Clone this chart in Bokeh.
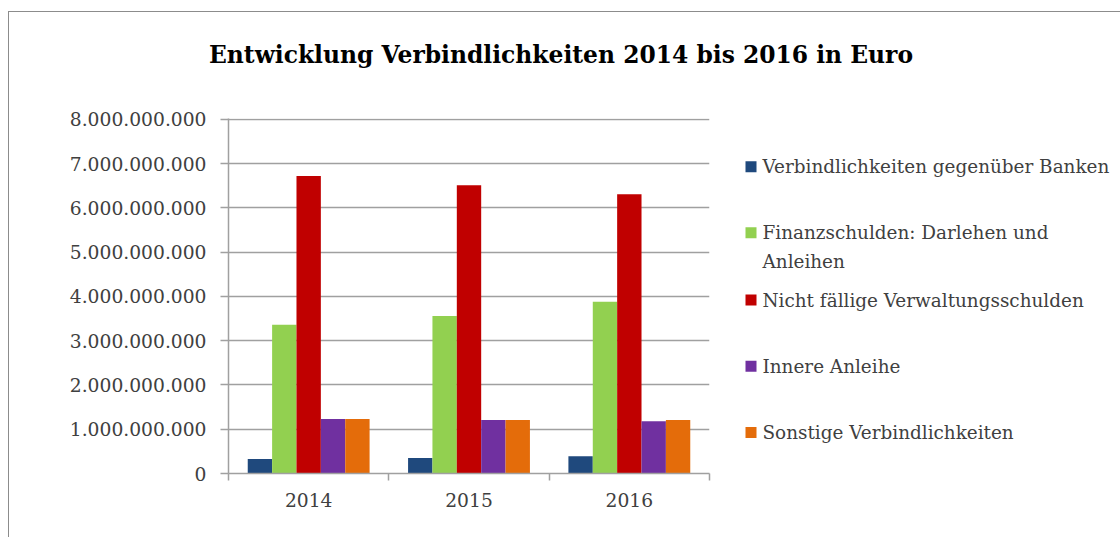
import numpy as np
from bokeh.plotting import figure
from bokeh.layouts import row, column
from bokeh.models import FixedTicker, Range1d
from bokeh.core.properties import value
from bokeh.embed import file_html
from bokeh.resources import INLINE

# ---- data ----
years = ["2014", "2015", "2016"]
series_names = [
    "Verbindlichkeiten gegenüber Banken",
    "Finanzschulden: Darlehen und Anleihen",
    "Nicht fällige Verwaltungsschulden",
    "Innere Anleihe",
    "Sonstige Verbindlichkeiten",
]
banken = [330e6, 350e6, 390e6]
finanzschulden = [3.36e9, 3.56e9, 3.88e9]
verwaltungsschulden = [6.72e9, 6.51e9, 6.31e9]
innere_anleihe = [1.23e9, 1.21e9, 1.18e9]
sonstige = [1.23e9, 1.21e9, 1.21e9]
y_ticks = [0, 1e9, 2e9, 3e9, 4e9, 5e9, 6e9, 7e9, 8e9]
y_tick_labels = ["0", "1.000.000.000", "2.000.000.000", "3.000.000.000", "4.000.000.000",
                 "5.000.000.000", "6.000.000.000", "7.000.000.000", "8.000.000.000"]
title_text = "Entwicklung Verbindlichkeiten 2014 bis 2016 in Euro"

colors = ["#1F497D", "#92D050", "#C00000", "#7030A0", "#E46C0A"]
series = [banken, finanzschulden, verwaltungsschulden, innere_anleihe, sonstige]

FONT = "DejaVu Serif"
GRID = "#a0a0a0"
TEXT = "#404040"

TOTAL_W = 1111
TITLE_H = 90
MAIN_W, MAIN_H = 702, 435
LEG_W = TOTAL_W - MAIN_W
FRAME_H = 354  # legend panel frame is aligned with the chart frame

# ---- title strip ----
t = figure(width=TOTAL_W, height=TITLE_H, output_backend="svg", toolbar_location=None,
           x_range=Range1d(0, TOTAL_W), y_range=Range1d(TITLE_H, 0),
           x_axis_type=None, y_axis_type=None, min_border=0)
t.outline_line_color = None
t.grid.visible = False
t.text(x=[551.5], y=[42], text=[title_text], text_font=value(FONT), text_font_style="bold",
       text_font_size="23.4px", text_color="#000000", text_align="center", text_baseline="middle")

# ---- main chart ----
p = figure(width=MAIN_W, height=MAIN_H, output_backend="svg", toolbar_location=None,
           x_range=Range1d(0, 3), y_range=Range1d(0, 8.02e9),
           min_border_left=219, min_border_right=2, min_border_top=16, min_border_bottom=64)
p.outline_line_color = None

bw = 0.152
centers = np.arange(len(years)) + 0.5
for i, (vals, col) in enumerate(zip(series, colors)):
    p.vbar(x=centers + (i - 2) * bw, top=vals, width=bw, bottom=0,
           fill_color=col, line_color=None)

p.xaxis.ticker = FixedTicker(ticks=list(centers), minor_ticks=[0, 1, 2, 3])
p.xaxis.major_label_overrides = {float(c): y for c, y in zip(centers, years)}
p.xaxis.major_tick_line_color = None
p.xaxis.major_tick_out = 0
p.xaxis.major_tick_in = 0
p.xaxis.minor_tick_line_color = GRID
p.xaxis.minor_tick_out = 7
p.xaxis.minor_tick_in = 0
p.xaxis.minor_tick_line_width = 1.5
p.xaxis.axis_line_color = GRID
p.xaxis.axis_line_width = 1.5
p.xaxis.major_label_standoff = 12
p.xaxis.major_label_text_font = FONT
p.xaxis.major_label_text_font_size = "18.7px"
p.xaxis.major_label_text_color = TEXT
p.xgrid.grid_line_color = None

p.yaxis.ticker = FixedTicker(ticks=y_ticks, minor_ticks=[])
p.yaxis.major_label_overrides = {tk: lb for tk, lb in zip(y_ticks, y_tick_labels)}
p.yaxis.major_tick_line_color = GRID
p.yaxis.major_tick_line_width = 1.5
p.yaxis.major_tick_out = 8
p.yaxis.major_tick_in = 0
p.yaxis.axis_line_color = GRID
p.yaxis.axis_line_width = 1.5
p.yaxis.major_label_standoff = 14
p.yaxis.major_label_text_font = FONT
p.yaxis.major_label_text_font_size = "18.7px"
p.yaxis.major_label_text_color = TEXT
p.ygrid.grid_line_color = GRID
p.ygrid.grid_line_width = 1.5

# ---- legend panel ----
leg = figure(width=LEG_W, height=MAIN_H, output_backend="svg", toolbar_location=None,
             x_range=Range1d(0, LEG_W), y_range=Range1d(FRAME_H, 0),
             x_axis_type=None, y_axis_type=None, min_border=0)
leg.outline_line_color = None
leg.grid.visible = False
row_y = [48, 114, 181, 247, 313]
leg.rect(x=[39.5] * len(colors), y=row_y, width=11, height=11,
         width_units="screen", height_units="screen", fill_color=colors, line_color=None)
leg_lines = [series_names[0], "Finanzschulden: Darlehen und", "Anleihen",
             series_names[2], series_names[3], series_names[4]]
leg_line_y = [48, 114, 143, 181, 247, 313]
leg.text(x=[51] * len(leg_lines), y=leg_line_y, text=leg_lines, text_font=value(FONT),
         text_font_size="18.4px", text_color=TEXT, text_align="left", text_baseline="middle")

layout = column(t, row(p, leg),
                styles={"margin-left": "8px", "margin-top": "11px",
                        "border-left": "1px solid #8c8c8c", "border-top": "1px solid #8c8c8c"})

open("out.html", "w").write(file_html(layout, INLINE))
